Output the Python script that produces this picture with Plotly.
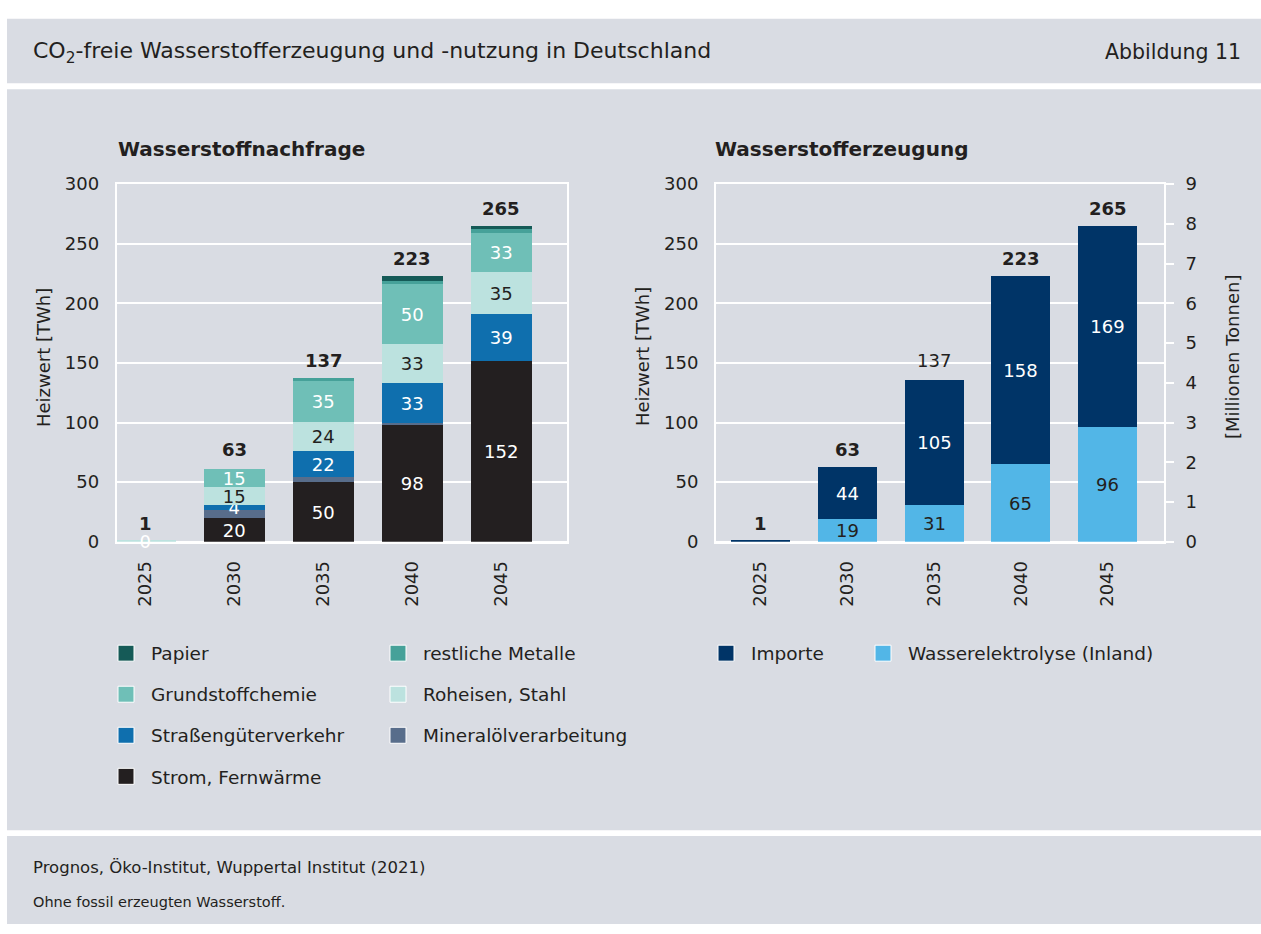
import plotly.graph_objects as go

# ---------------- data ----------------
years = ["2025", "2030", "2035", "2040", "2045"]

# Wasserstoffnachfrage [TWh] (stack bottom -> top)
strom_fernwaerme = [0, 20, 50, 98, 152]
mineraloel = [0, 7, 4.5, 2, 0]
strassengueter = [0, 4, 22, 33, 39]
roheisen_stahl = [1, 15, 24, 33, 35]
grundstoffchemie = [0, 15, 35, 50, 33]
restliche_metalle = [0, 0, 1.5, 3, 3]
papier = [0, 0, 0, 4, 3]
nachfrage_total = [1, 63, 137, 223, 265]

strom_labels = ["", "20", "50", "98", "152"]
strassen_labels = ["", "4", "22", "33", "39"]
roheisen_labels = ["0", "15", "24", "33", "35"]
grundstoff_labels = ["", "15", "35", "50", "33"]

# Wasserstofferzeugung [TWh]
elektrolyse = [0, 19, 31, 65, 96]
importe = [1, 44, 105, 158, 169]
erzeugung_total = [1, 63, 137, 223, 265]

elektrolyse_labels = ["", "19", "31", "65", "96"]
importe_labels = ["", "44", "105", "158", "169"]

y_ticks = [0, 50, 100, 150, 200, 250, 300]
mt_ticks = [0, 1, 2, 3, 4, 5, 6, 7, 8, 9]

# ---------------- style ----------------
W, H = 1261, 934
FONT = "DejaVu Sans"
DARK = "#231f20"
WHITE = "#ffffff"
BG = "#d9dce3"

C_PAPIER = "#155a57"
C_METALLE = "#46a199"
C_GRUND = "#6fbfb7"
C_ROHEISEN = "#bce2df"
C_STRASSE = "#0f6fae"
C_MINERAL = "#586d8b"
C_STROM = "#231f20"
C_IMPORTE = "#003467"
C_ELEKTRO = "#52b6e7"


def px_x(v):
    return v / W


def px_y(v):
    return 1 - v / H


pos = list(range(len(years)))
fig = go.Figure()


def add_bar(name, values, color, xa, ya, labels=None, label_colors=None, width=0.685):
    fig.add_trace(go.Bar(
        x=pos, y=values, name=name, marker=dict(color=color, line=dict(width=0)),
        xaxis=xa, yaxis=ya, width=width, showlegend=False,
        text=labels if labels is not None else None,
        textposition="inside", insidetextanchor="middle", textangle=0,
        textfont=dict(family=FONT, size=18, color=label_colors),
        cliponaxis=False, hoverinfo="skip",
    ))


def n(c, k):
    return [c] * k


add_bar("Strom, Fernwärme", strom_fernwaerme, C_STROM, "x", "y", strom_labels, n(WHITE, 5))
add_bar("Mineralölverarbeitung", mineraloel, C_MINERAL, "x", "y")
add_bar("Straßengüterverkehr", strassengueter, C_STRASSE, "x", "y", strassen_labels, n(WHITE, 5))
add_bar("Roheisen, Stahl", roheisen_stahl, C_ROHEISEN, "x", "y", roheisen_labels,
        [WHITE] + n(DARK, 4))
add_bar("Grundstoffchemie", grundstoffchemie, C_GRUND, "x", "y", grundstoff_labels, n(WHITE, 5))
add_bar("restliche Metalle", restliche_metalle, C_METALLE, "x", "y")
add_bar("Papier", papier, C_PAPIER, "x", "y")

add_bar("Wasserelektrolyse (Inland)", elektrolyse, C_ELEKTRO, "x2", "y2",
        elektrolyse_labels, n(DARK, 5), width=0.68)
add_bar("Importe", importe, C_IMPORTE, "x2", "y2", importe_labels, n(WHITE, 5), width=0.68)

# invisible trace so the secondary (Mt) axis is drawn
fig.add_trace(go.Scatter(x=[None], y=[None], xaxis="x2", yaxis="y3",
                         showlegend=False, hoverinfo="skip"))


# legend proxies (larger square symbols)
def proxy(name, color, legend, group):
    fig.add_trace(go.Scatter(
        x=[None], y=[None], mode="markers", name=name, legend=legend,
        legendgroup=group,
        marker=dict(symbol="square", size=16, color=color, line=dict(color=WHITE, width=1)),
        xaxis="x", yaxis="y", hoverinfo="skip", showlegend=True,
    ))


proxy("Papier", C_PAPIER, "legend", "g1")
proxy("Grundstoffchemie", C_GRUND, "legend", "g2")
proxy("Straßengüterverkehr", C_STRASSE, "legend", "g3")
proxy("Strom, Fernwärme", C_STROM, "legend", "g4")
proxy("restliche Metalle", C_METALLE, "legend2", "g5")
proxy("Roheisen, Stahl", C_ROHEISEN, "legend2", "g6")
proxy("Mineralölverarbeitung", C_MINERAL, "legend2", "g7")
proxy("Importe", C_IMPORTE, "legend3", "g8")
proxy("Wasserelektrolyse (Inland)", C_ELEKTRO, "legend4", "g9")

# ---------------- axes ----------------
ydom = [px_y(543), px_y(177)]
tickfont = dict(family=FONT, size=18, color=DARK)

xcommon = dict(tickvals=pos, ticktext=years, tickangle=-90, showgrid=False,
               showline=True, linecolor=WHITE, linewidth=2, mirror=True,
               ticks="", tickfont=tickfont, ticklabelstandoff=10, zeroline=False,
               fixedrange=True)
ycommon = dict(range=[0, 300], tickvals=y_ticks, showgrid=True, gridcolor=WHITE,
               gridwidth=2, showline=True, linecolor=WHITE, linewidth=2,
               zeroline=True, zerolinecolor=WHITE, zerolinewidth=2, ticks="",
               tickfont=tickfont, ticklabelstandoff=12, fixedrange=True)

leg_common = dict(xanchor="left", yanchor="top", bgcolor="rgba(0,0,0,0)",
                  font=dict(family=FONT, size=18.5, color=DARK), tracegroupgap=14,
                  itemwidth=40, itemclick=False, itemdoubleclick=False, orientation="v")

fig.update_layout(
    width=W, height=H,
    margin=dict(l=0, r=0, t=0, b=0),
    paper_bgcolor=WHITE, plot_bgcolor="rgba(0,0,0,0)",
    barmode="stack", bargap=0,
    font=dict(family=FONT, color=DARK),
    uniformtext=dict(mode="show", minsize=18),
    xaxis=dict(domain=[px_x(116.7), px_x(566.7)], range=[-0.324, 4.733], anchor="y", **xcommon),
    yaxis=dict(domain=ydom, anchor="x", mirror=True, **ycommon),
    xaxis2=dict(domain=[px_x(716), px_x(1164)], range=[-0.513, 4.651], anchor="y2", **xcommon),
    yaxis2=dict(domain=ydom, anchor="x2", mirror=False, **ycommon),
    yaxis3=dict(overlaying="y2", side="right", anchor="x2", range=[0, 9], tickvals=mt_ticks,
                showgrid=False, showline=True, linecolor=WHITE, linewidth=2,
                ticks="outside", ticklen=8, tickwidth=2, tickcolor=WHITE,
                tickfont=tickfont, ticklabelstandoff=8, zeroline=False, fixedrange=True),
    legend=dict(x=px_x(101), y=px_y(638), **leg_common),
    legend2=dict(x=px_x(373), y=px_y(638), **leg_common),
    legend3=dict(x=px_x(701), y=px_y(638), **leg_common),
    legend4=dict(x=px_x(858), y=px_y(638), **leg_common),
)

# panels
for (y0, y1) in [(8, 74), (80, 838), (844, 934)]:
    fig.add_shape(type="rect", xref="paper", yref="paper", layer="below",
                  x0=px_x(7), x1=1, y0=px_y(y1), y1=px_y(y0),
                  fillcolor=BG, line=dict(width=0))

ann = []


def text(t, x, y, size, xanchor="left", angle=0, weight=None):
    ann.append(dict(text=t, x=px_x(x), y=px_y(y), xref="paper", yref="paper",
                    xanchor=xanchor, yanchor="middle", showarrow=False, textangle=angle,
                    font=dict(family=FONT, size=size, color=DARK,
                              weight=weight if weight else "normal")))


text("CO<sub>2</sub>-freie Wasserstofferzeugung und -nutzung in Deutschland", 31, 42, 22)
text("Abbildung 11", 1243, 42, 20.5, xanchor="right")
text("Wasserstoffnachfrage", 116, 141, 20, weight="bold")
text("Wasserstofferzeugung", 713, 141, 20, weight="bold")
text("Heizwert [TWh]", 43, 354, 18, xanchor="center", angle=-90)
text("Heizwert [TWh]", 642, 354, 18, xanchor="center", angle=-90)
text("[Millionen Tonnen]", 1232, 354, 18, xanchor="center", angle=-90)
text("Prognos, Öko-Institut, Wuppertal Institut (2021)", 31, 876, 16.5)
text("Ohne fossil erzeugten Wasserstoff.", 31, 912, 14.5)

for i, tot in enumerate(nachfrage_total):
    ann.append(dict(text=str(tot), x=pos[i], y=tot, xref="x", yref="y", xanchor="center",
                    yanchor="bottom", yshift=5, showarrow=False,
                    font=dict(family=FONT, size=18, color=DARK, weight="bold")))
for i, tot in enumerate(erzeugung_total):
    ann.append(dict(text=str(tot), x=pos[i], y=tot, xref="x2", yref="y2", xanchor="center",
                    yanchor="bottom", yshift=5, showarrow=False,
                    font=dict(family=FONT, size=18, color=DARK,
                              weight="normal" if i == 2 else "bold")))

fig.update_layout(annotations=ann)

page_fix = (
    "document.documentElement.style.margin='0';"
    "document.documentElement.style.padding='0';"
    "document.documentElement.style.overflow='hidden';"
    "document.body.style.margin='0';"
    "document.body.style.padding='0';"
    "document.body.style.overflow='hidden';"
    "var gd=document.querySelector('.plotly-graph-div');"
    "if(gd){gd.style.position='absolute';gd.style.left='0px';gd.style.top='0px';}"
)

fig.write_html(
    "out.html",
    config={"responsive": False, "displayModeBar": False},
    post_script=page_fix,
)
